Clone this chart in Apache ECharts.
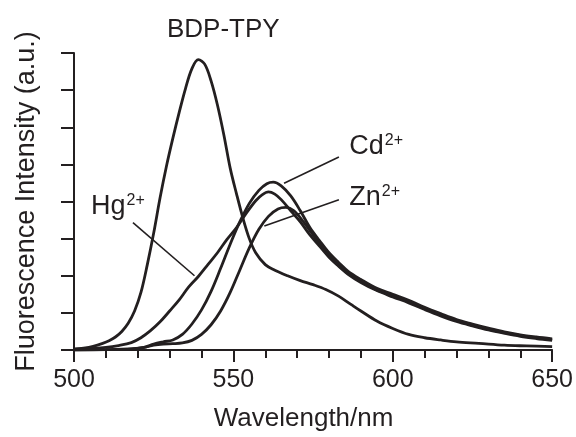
<!DOCTYPE html>
<html>
<head>
<meta charset="utf-8">
<script src="https://cdn.jsdelivr.net/npm/echarts@6/dist/echarts.min.js"></script>
<style>
  html, body { margin: 0; padding: 0; background: #fff; }
  #chart { width: 576px; height: 437px; }
</style>
</head>
<body>
<div id="chart"></div>
<script>
// Emission spectra: [wavelength (nm), intensity (a.u.)]
const freeLigand = [
  [500, 0.02], [503, 0.05], [506, 0.1], [509, 0.18], [511, 0.25], [513, 0.35],
  [515, 0.5], [517, 0.72], [519, 1.05], [521, 1.55], [523, 2.3], [525, 3.15],
  [527, 4.1], [529, 4.95], [531, 5.7], [533, 6.4], [535, 7.05], [537, 7.58],
  [539, 7.82], [541, 7.7], [543, 7.25], [545, 6.6], [547, 5.8], [549, 4.9],
  [551, 4.2], [553, 3.55], [555, 3.0], [557, 2.62], [560, 2.3], [563, 2.15],
  [567, 2.0], [571, 1.87], [575, 1.76], [579, 1.63], [583, 1.45], [587, 1.22],
  [590, 1.05], [595, 0.78], [600, 0.58], [605, 0.42], [610, 0.33], [615, 0.27],
  [620, 0.22], [627, 0.18], [635, 0.13], [642, 0.11], [650, 0.09]
];
const withHg = [
  [500, 0.02], [505, 0.04], [510, 0.07], [514, 0.12], [518, 0.2], [521, 0.33],
  [524, 0.52], [527, 0.76], [530, 1.05], [533, 1.35], [536, 1.7], [539, 1.98],
  [542, 2.3], [545, 2.62], [548, 2.98], [551, 3.3], [554, 3.68], [557, 4.02],
  [559, 4.18], [561, 4.26], [563, 4.2], [565, 4.05], [568, 3.75], [571, 3.45],
  [574, 3.1], [577, 2.8], [580, 2.5], [583, 2.26], [586, 2.04], [590, 1.82],
  [595, 1.6], [600, 1.43], [605, 1.27], [610, 1.09], [615, 0.92], [620, 0.77],
  [625, 0.65], [630, 0.54], [635, 0.45], [640, 0.37], [645, 0.31], [650, 0.26]
];
const withCd = [
  [500, 0.0], [510, 0.01], [518, 0.03], [522, 0.07], [525, 0.16], [528, 0.22],
  [531, 0.27], [534, 0.42], [537, 0.7], [540, 1.08], [543, 1.58], [546, 2.2],
  [549, 2.85], [552, 3.45], [555, 3.95], [558, 4.3], [560.5, 4.48], [562.5, 4.52],
  [565, 4.42], [568, 4.15], [571, 3.75], [574, 3.3], [577, 2.95], [580, 2.62],
  [583, 2.36], [586, 2.12], [590, 1.9], [595, 1.66], [600, 1.5], [605, 1.34],
  [610, 1.15], [615, 0.98], [620, 0.82], [625, 0.7], [630, 0.59], [635, 0.49],
  [640, 0.41], [645, 0.35], [650, 0.3]
];
const withZn = [
  [500, 0.0], [510, 0.01], [518, 0.03], [522, 0.07], [525, 0.13], [528, 0.16],
  [531, 0.17], [534, 0.19], [537, 0.26], [540, 0.42], [543, 0.68], [546, 1.05],
  [549, 1.55], [552, 2.15], [555, 2.75], [558, 3.25], [561, 3.6], [564, 3.8],
  [566.5, 3.84], [569, 3.75], [572, 3.45], [575, 3.1], [578, 2.75], [581, 2.45],
  [584, 2.2], [587, 2.0], [591, 1.8], [595, 1.62], [600, 1.46], [605, 1.3],
  [610, 1.12], [615, 0.95], [620, 0.8], [625, 0.67], [630, 0.56], [635, 0.47],
  [640, 0.39], [645, 0.33], [650, 0.28]
];

// Ion labels: [x, y, ion, charge]
const ionLabels = [
  [586.2, 5.48, 'Cd', '2+'],
  [586.2, 4.1, 'Zn', '2+'],
  [505.2, 3.86, 'Hg', '2+']
];
// Leader lines from each label to its curve: [[x1, y1], [x2, y2]]
const leaders = [
  [[565.9, 4.49], [583.1, 5.2]],
  [[559.7, 3.34], [583.1, 4.05]],
  [[518.5, 3.43], [537.8, 2.0]]
];

const xRange = [500, 650];
const xStep = 50;
const yRange = [0, 8];
const yStep = 1;

const INK = '#231f20';
const FONT = '"Liberation Sans", Arial, Helvetica, sans-serif';

function spectrum(name, data) {
  return {
    name: name,
    type: 'line',
    data: data,
    smooth: 0.35,
    showSymbol: false,
    symbol: 'none',
    lineStyle: { color: INK, width: 2.8 },
    z: 3
  };
}

const chart = echarts.init(document.getElementById('chart'), null, { renderer: 'canvas' });

chart.setOption({
  animation: false,
  backgroundColor: '#ffffff',
  textStyle: { fontFamily: FONT, color: INK },
  title: {
    text: 'BDP-TPY',
    left: 162,
    top: 12,
    textStyle: { fontFamily: FONT, fontSize: 26, fontWeight: 'normal', color: INK }
  },
  grid: { left: 74, right: 23, top: 53, bottom: 83, containLabel: false },
  xAxis: {
    type: 'value',
    min: xRange[0],
    max: xRange[1],
    interval: xStep,
    name: 'Wavelength/nm',
    nameLocation: 'middle',
    nameGap: 56,
    nameTextStyle: { fontFamily: FONT, fontSize: 26, color: INK, padding: [0, 19, 0, 0] },
    axisLine: { show: true, onZero: false, lineStyle: { color: INK, width: 2 } },
    axisTick: { show: true, inside: false, length: 12, lineStyle: { color: INK, width: 2 } },
    minorTick: { show: true, splitNumber: 5, length: 8, lineStyle: { color: INK, width: 2 } },
    axisLabel: { fontFamily: FONT, fontSize: 25, color: INK, margin: 18 },
    splitLine: { show: false },
    minorSplitLine: { show: false }
  },
  yAxis: {
    type: 'value',
    min: yRange[0],
    max: yRange[1],
    interval: yStep,
    name: 'Fluorescence Intensity (a.u.)',
    nameLocation: 'middle',
    nameGap: 34,
    nameTextStyle: { fontFamily: FONT, fontSize: 27, color: INK },
    axisLine: { show: true, onZero: false, lineStyle: { color: INK, width: 2 } },
    axisTick: { show: true, inside: false, length: 13, lineStyle: { color: INK, width: 2 } },
    axisLabel: { show: false },
    splitLine: { show: false }
  },
  series: [
    spectrum('BDP-TPY', freeLigand),
    spectrum('Hg2+', withHg),
    spectrum('Zn2+', withZn),
    spectrum('Cd2+', withCd),
    {
      name: 'leaders',
      type: 'line',
      data: [],
      silent: true,
      markLine: {
        silent: true,
        symbol: ['none', 'none'],
        label: { show: false },
        lineStyle: { color: INK, width: 1.6, type: 'solid' },
        data: leaders.map(l => [{ coord: l[0] }, { coord: l[1] }])
      }
    },
    {
      name: 'ions',
      type: 'scatter',
      symbolSize: 1,
      silent: true,
      itemStyle: { color: 'rgba(0,0,0,0)', opacity: 1 },
      data: ionLabels.map(d => ({ value: [d[0], d[1]], ion: d[2], charge: d[3] })),
      label: {
        show: true,
        position: 'right',
        distance: 0,
        color: INK,
        textBorderWidth: 0,
        formatter: p => '{b|' + p.data.ion + '}{s|' + p.data.charge + '}',
        rich: {
          b: { fontFamily: FONT, fontSize: 27, color: INK, lineHeight: 30, textBorderWidth: 0 },
          s: { fontFamily: FONT, fontSize: 16, color: INK, verticalAlign: 'top', lineHeight: 16, padding: [1, 0, 0, 1], textBorderWidth: 0 }
        }
      },
      emphasis: { disabled: true }
    }
  ]
});
</script>
</body>
</html>
